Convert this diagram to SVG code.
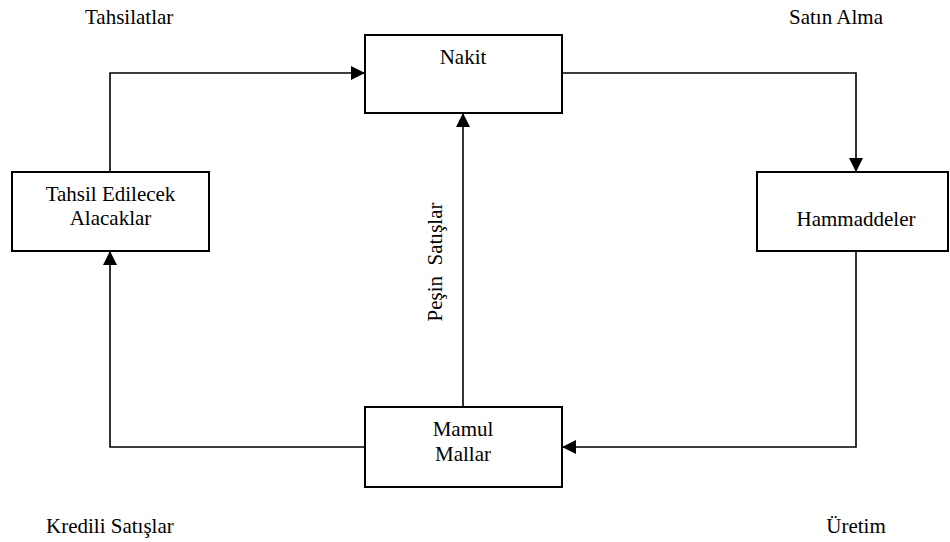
<svg xmlns="http://www.w3.org/2000/svg" width="950" height="542" viewBox="0 0 950 542">
<style>
.box{fill:#fff;stroke:#000;stroke-width:2}
.t{font-family:"Liberation Serif","Times New Roman",serif;font-size:21px;fill:#000}
.m{text-anchor:middle}
.c{fill:none;stroke:#000;stroke-width:1.6}
</style>
<defs>
<marker id="ah" markerWidth="14" markerHeight="14" refX="14" refY="7" orient="auto" markerUnits="userSpaceOnUse">
<path d="M0,0 L14,7 L0,14 Z" fill="#000"/>
</marker>
</defs>
<rect width="950" height="542" fill="#fff"/>
<g id="connectors">
<path class="c" d="M110,172 V73 H365" marker-end="url(#ah)"/>
<path class="c" d="M562,73 H856 V172" marker-end="url(#ah)"/>
<path class="c" d="M856,251 V447 H562" marker-end="url(#ah)"/>
<path class="c" d="M463,407 V113" marker-end="url(#ah)"/>
<path class="c" d="M365,447 H110 V251" marker-end="url(#ah)"/>
</g>
<g id="nakit">
<rect class="box" x="365" y="35" width="197" height="78"/>
<text class="t m" x="463" y="64">Nakit</text>
</g>
<g id="tahsil">
<rect class="box" x="12" y="172" width="197" height="79"/>
<text class="t m" x="110.5" y="201">Tahsil Edilecek</text>
<text class="t m" x="110.5" y="225">Alacaklar</text>
</g>
<g id="hammaddeler">
<rect class="box" x="757" y="172" width="191" height="79"/>
<text class="t m" x="856" y="226">Hammaddeler</text>
</g>
<g id="mamul">
<rect class="box" x="365" y="407" width="197" height="80"/>
<text class="t m" x="463" y="436">Mamul</text>
<text class="t m" x="463" y="461">Mallar</text>
</g>
<g id="labels">
<text class="t" x="85" y="24">Tahsilatlar</text>
<text class="t m" x="836" y="24">Satın Alma</text>
<text class="t" x="46" y="533">Kredili Satışlar</text>
<text class="t m" x="856" y="533">Üretim</text>
<text class="t m" x="442" y="262" transform="rotate(-90 442 262)" style="white-space:pre">Peşin  Satışlar</text>
</g>
</svg>
